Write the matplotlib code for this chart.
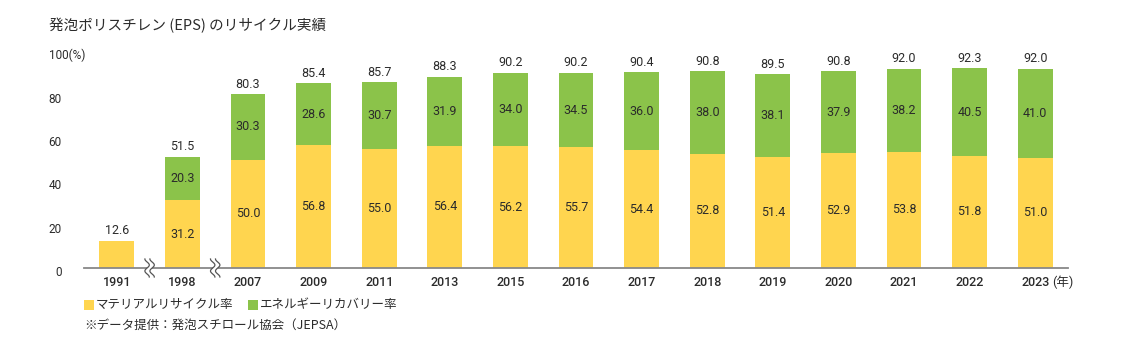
import matplotlib
matplotlib.use("Agg")
import matplotlib.pyplot as plt
import matplotlib.transforms as mtransforms
import numpy as np
from matplotlib.patches import Rectangle

plt.rcParams['font.family'] = ['Roboto', 'Noto Sans CJK JP', 'DejaVu Sans']

years = ["1991", "1998", "2007", "2009", "2011", "2013", "2015", "2016", "2017",
         "2018", "2019", "2020", "2021", "2022", "2023"]
material = [12.6, 31.2, 50.0, 56.8, 55.0, 56.4, 56.2, 55.7, 54.4, 52.8, 51.4, 52.9, 53.8, 51.8, 51.0]
energy = [0.0, 20.3, 30.3, 28.6, 30.7, 31.9, 34.0, 34.5, 36.0, 38.0, 38.1, 37.9, 38.2, 40.5, 41.0]
totals = [12.6, 51.5, 80.3, 85.4, 85.7, 88.3, 90.2, 90.2, 90.4, 90.8, 89.5, 90.8, 92.0, 92.3, 92.0]
yticks = [0, 20, 40, 60, 80]

YELLOW = "#FFD54F"
GREEN = "#8BC34A"
TXT = "#2b2b2b"

W, H = 1121, 350
fig = plt.figure(figsize=(W / 100, H / 100), dpi=100)
ax = fig.add_axes([84 / W, 1 - 268 / H, (1068 - 84) / W, (268 - 51.5) / H])

x = np.arange(len(years))
bw = 0.53
ax.bar(x, material, bw, color=YELLOW, zorder=2)
ax.bar(x, energy, bw, bottom=material, color=GREEN, zorder=2)

for i in range(len(years)):
    ax.text(x[i], totals[i] + 1.6, f"{totals[i]:.1f}", ha="center", va="bottom",
            fontsize=9, color=TXT)
    if energy[i] > 0:
        ax.text(x[i], material[i] / 2, f"{material[i]:.1f}", ha="center", va="center",
                fontsize=9, color=TXT, zorder=3)
        ax.text(x[i], material[i] + energy[i] / 2, f"{energy[i]:.1f}", ha="center",
                va="center", fontsize=9, color=TXT, zorder=3)

ax.set_xlim(-0.5, 14.5)
ax.set_ylim(0, 100)
for s in ["top", "right", "left"]:
    ax.spines[s].set_visible(False)
ax.spines["bottom"].set_color("#888888")
ax.spines["bottom"].set_linewidth(1.3)
ax.set_xticks(x)
ax.set_xticklabels(years, fontsize=9, color=TXT, fontweight="medium")
ax.set_yticks(yticks)
ax.set_yticklabels([str(v) for v in yticks], fontsize=8.5, color=TXT)
ax.tick_params(axis="both", length=0)
ax.tick_params(axis="x", pad=6)
ax.tick_params(axis="y", pad=16)
shift = mtransforms.ScaledTranslation(0, -3 / 100, fig.dpi_scale_trans)
for lbl in ax.get_yticklabels():
    lbl.set_transform(lbl.get_transform() + shift)

# axis break marks
pxx = 1 / 65.6
pxy = 100 / 216.5
s = np.linspace(-1, 1, 60)
for xb in [0.5, 1.5]:
    ax.add_patch(Rectangle((xb - 2.5 * pxx, -9 * pxy), 5 * pxx, 18 * pxy,
                           facecolor="white", edgecolor="none", clip_on=False, zorder=4))
    for off in [-2.5, 2.5]:
        xs = xb + (off + 2.2 * np.sin(np.pi * s * 1.5)) * pxx
        ys = s * 9 * pxy
        ax.plot(xs, ys, color="#555555", lw=0.9, clip_on=False, zorder=5)

fig.text(49 / W, 1 - 25 / H, "発泡ポリスチレン (EPS) のリサイクル実績", fontsize=10.5,
         color=TXT, ha="left", va="center", family=["Noto Sans CJK JP"])
fig.text(49 / W, 1 - 55 / H, "100(%)", fontsize=8.5, color=TXT, ha="left", va="center")
fig.text(1052 / W, 1 - 282 / H, "(年)", fontsize=9, color=TXT, ha="left", va="center",
         family=["Roboto", "Noto Sans CJK JP"])

# legend
fig.patches.append(Rectangle((84 / W, 1 - 310 / H), 10 / W, 10 / H, facecolor=YELLOW,
                             transform=fig.transFigure, figure=fig))
fig.text(96 / W, 1 - 304.5 / H, "マテリアルリサイクル率", fontsize=9, color=TXT,
         ha="left", va="center", family=["Noto Sans CJK JP"])
fig.patches.append(Rectangle((248 / W, 1 - 310 / H), 10 / W, 10 / H, facecolor=GREEN,
                             transform=fig.transFigure, figure=fig))
fig.text(260 / W, 1 - 304.5 / H, "エネルギーリカバリー率", fontsize=9, color=TXT,
         ha="left", va="center", family=["Noto Sans CJK JP"])
fig.text(84 / W, 1 - 325 / H, "※データ提供：発泡スチロール協会（JEPSA）", fontsize=9,
         color=TXT, ha="left", va="center", family=["Noto Sans CJK JP"])

fig.savefig("out.png", dpi=100)
